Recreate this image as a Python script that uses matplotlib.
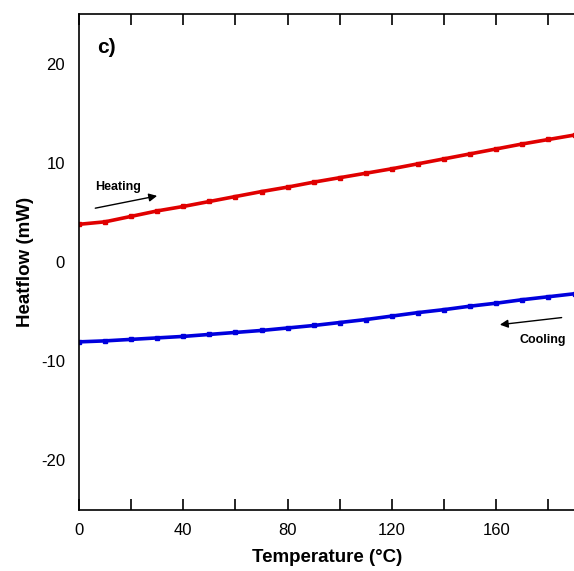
import matplotlib
matplotlib.use("Agg")
import matplotlib.pyplot as plt

plt.rcParams["font.family"] = ["Liberation Sans", "DejaVu Sans"]
plt.rcParams["axes.unicode_minus"] = False

# Data
temp_heat = [0, 10, 20, 30, 40, 50, 60, 70, 80, 90, 100, 110, 120, 130, 140, 150, 160, 170, 180, 190]
flow_heat = [3.8, 4.05, 4.6, 5.15, 5.6, 6.1, 6.6, 7.1, 7.55, 8.05, 8.5, 8.95, 9.4, 9.9, 10.4, 10.9, 11.4, 11.9, 12.35, 12.8]

temp_cool = [0, 10, 20, 30, 40, 50, 60, 70, 80, 90, 100, 110, 120, 130, 140, 150, 160, 170, 180, 190]
flow_cool = [-8.05, -7.95, -7.8, -7.65, -7.5, -7.3, -7.1, -6.9, -6.65, -6.4, -6.1, -5.8, -5.45, -5.1, -4.8, -4.45, -4.15, -3.8, -3.5, -3.2]

xticks = [0, 40, 80, 120, 160]
yticks = [-20, -10, 0, 10, 20]

fig = plt.figure(figsize=(5.74, 5.71), dpi=100)
ax = fig.add_axes([0.1376, 0.1068, 0.8634, 0.8687])

ax.plot(temp_heat, flow_heat, color="#e00000", lw=2.6, marker="s", ms=2.5)
ax.plot(temp_cool, flow_cool, color="#0000dd", lw=2.6, marker="s", ms=2.5)

ax.set_xlim(0, 190)
ax.set_ylim(-25, 25)
ax.set_xticks(xticks)
ax.set_xticks(range(0, 190, 20), minor=True)
ax.set_yticks(yticks)
ax.tick_params(axis="x", which="both", direction="in", length=8, width=1.2,
               top=True, labelsize=12, pad=9)
ax.tick_params(axis="y", length=0, labelsize=12, pad=10)
for s in ax.spines.values():
    s.set_linewidth(1.2)
ax.spines["right"].set_visible(False)

ax.set_xlabel("Temperature (°C)", fontsize=13.5, fontweight="bold", labelpad=8)
ax.set_ylabel("Heatflow (mW)", fontsize=13.5, fontweight="bold", labelpad=5)

ax.text(6.9, 21.6, "c)", fontsize=15, fontweight="bold", va="center")

ax.text(6.1, 7.56, "Heating", fontsize=9, fontweight="bold", va="center")
ax.annotate("", xy=(31, 6.72), xytext=(5.2, 5.37),
            arrowprops=dict(arrowstyle="-|>", color="black", lw=1, mutation_scale=12))
ax.text(168.9, -7.86, "Cooling", fontsize=9, fontweight="bold", va="center")
ax.annotate("", xy=(160.3, -6.35), xytext=(186.1, -5.57),
            arrowprops=dict(arrowstyle="-|>", color="black", lw=1, mutation_scale=12))

fig.savefig("out.png", dpi=100)
